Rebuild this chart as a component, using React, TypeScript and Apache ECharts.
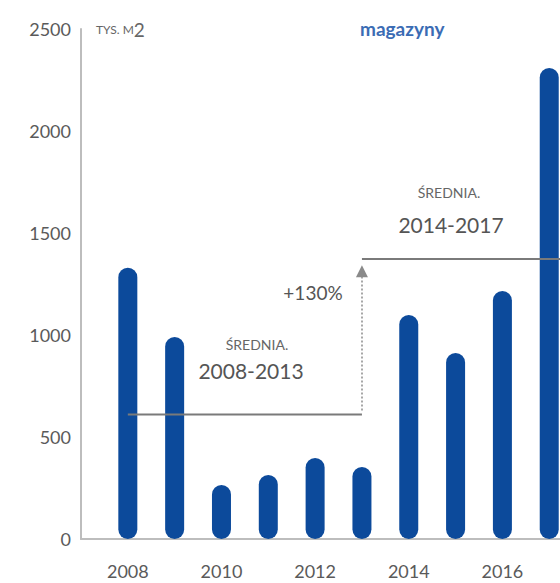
import React, { useEffect, useRef } from "react";
import * as echarts from "echarts";

const years = [2008, 2009, 2010, 2011, 2012, 2013, 2014, 2015, 2016, 2017];
const values = [1330, 990, 265, 314, 397, 353, 1098, 912, 1216, 2309];
const yTicks = [0, 500, 1000, 1500, 2000, 2500];
const period1 = [2008, 2013];
const period2 = [2014, 2017];
const averages = [610, 1372];

export default function App() {
  const ref = useRef<HTMLDivElement>(null);
  useEffect(() => {
    document.body.style.margin = "0";
    if (!ref.current) return;
    const chart = echarts.init(ref.current, null, { renderer: "svg" });
    const [a1, a2] = averages;
    const xMax = 2017.23;
    const font = "Lato, 'Open Sans', sans-serif";
    chart.setOption({
      animation: false,
      grid: { left: 81, right: 0, top: 29, bottom: 44 },
      xAxis: {
        type: "value",
        min: 2007,
        max: xMax,
        interval: 1,
        axisLine: { show: true, onZero: false, lineStyle: { color: "#bdbdbd", width: 2 } },
        axisTick: { show: false },
        splitLine: { show: false },
        axisLabel: {
          color: "#5a5a5a",
          fontSize: 18,
          fontFamily: font,
          margin: 23,
          showMinLabel: false,
          showMaxLabel: false,
          formatter: (v: number) => (years.includes(v) && v % 2 === 0 ? String(v) : ""),
        },
      },
      yAxis: {
        type: "value",
        min: yTicks[0],
        max: yTicks[yTicks.length - 1],
        interval: 500,
        axisLine: { show: true, lineStyle: { color: "#bdbdbd", width: 2 } },
        axisTick: { show: false },
        splitLine: { show: false },
        axisLabel: { color: "#5a5a5a", fontSize: 18, fontFamily: font, margin: 10, formatter: (v: number) => String(v) },
      },
      series: [
        {
          type: "bar",
          data: years.map((y, i) => [y, values[i]]),
          barWidth: 19,
          itemStyle: { color: "#0c4a9b", borderRadius: 10 },
          z: 2,
        },
        {
          type: "line",
          data: [[period1[0], a1], [period1[1], a1]],
          symbol: "none",
          lineStyle: { color: "#7a7a7a", width: 2 },
          z: 3,
        },
        {
          type: "line",
          data: [[period1[1], a2], [xMax, a2]],
          symbol: "none",
          lineStyle: { color: "#7a7a7a", width: 2 },
          z: 3,
          markLine: {
            silent: true,
            symbol: ["none", "triangle"],
            symbolSize: [12, 12],
            label: { show: false },
            lineStyle: { color: "#8a8a8a", type: [2, 2], width: 1.5 },
            data: [[{ coord: [period1[1], a1 + 20] }, { coord: [period1[1], a2 - 60] }]],
          },
        },
      ],
      graphic: [
        {
          type: "text",
          left: 96,
          top: 20,
          style: {
            text: "{s|TYS. M}{b|2}",
            rich: {
              s: { fontSize: 12, fill: "#666", fontFamily: font },
              b: { fontSize: 19, fill: "#666", fontFamily: font },
            },
          },
        },
        {
          type: "text",
          left: 360,
          top: 19,
          style: { text: "magazyny", fontSize: 19, fontWeight: "bold", fill: "#3b6cb4", fontFamily: font },
        },
        {
          type: "text",
          x: 257,
          y: 344,
          style: { text: "ŚREDNIA.", fontSize: 14, fill: "#666", fontFamily: font, align: "center", verticalAlign: "middle" },
        },
        {
          type: "text",
          x: 251,
          y: 370,
          style: { text: "2008-2013", fontSize: 21, fill: "#555", fontFamily: font, align: "center", verticalAlign: "middle" },
        },
        {
          type: "text",
          x: 449,
          y: 192,
          style: { text: "ŚREDNIA.", fontSize: 14, fill: "#666", fontFamily: font, align: "center", verticalAlign: "middle" },
        },
        {
          type: "text",
          x: 451,
          y: 224,
          style: { text: "2014-2017", fontSize: 21, fill: "#555", fontFamily: font, align: "center", verticalAlign: "middle" },
        },
        {
          type: "text",
          x: 313,
          y: 292,
          style: { text: "+130%", fontSize: 19, fill: "#555", fontFamily: font, align: "center", verticalAlign: "middle" },
        },
      ],
    });
    return () => chart.dispose();
  }, []);
  return <div ref={ref} style={{ width: 560, height: 583 }} />;
}
